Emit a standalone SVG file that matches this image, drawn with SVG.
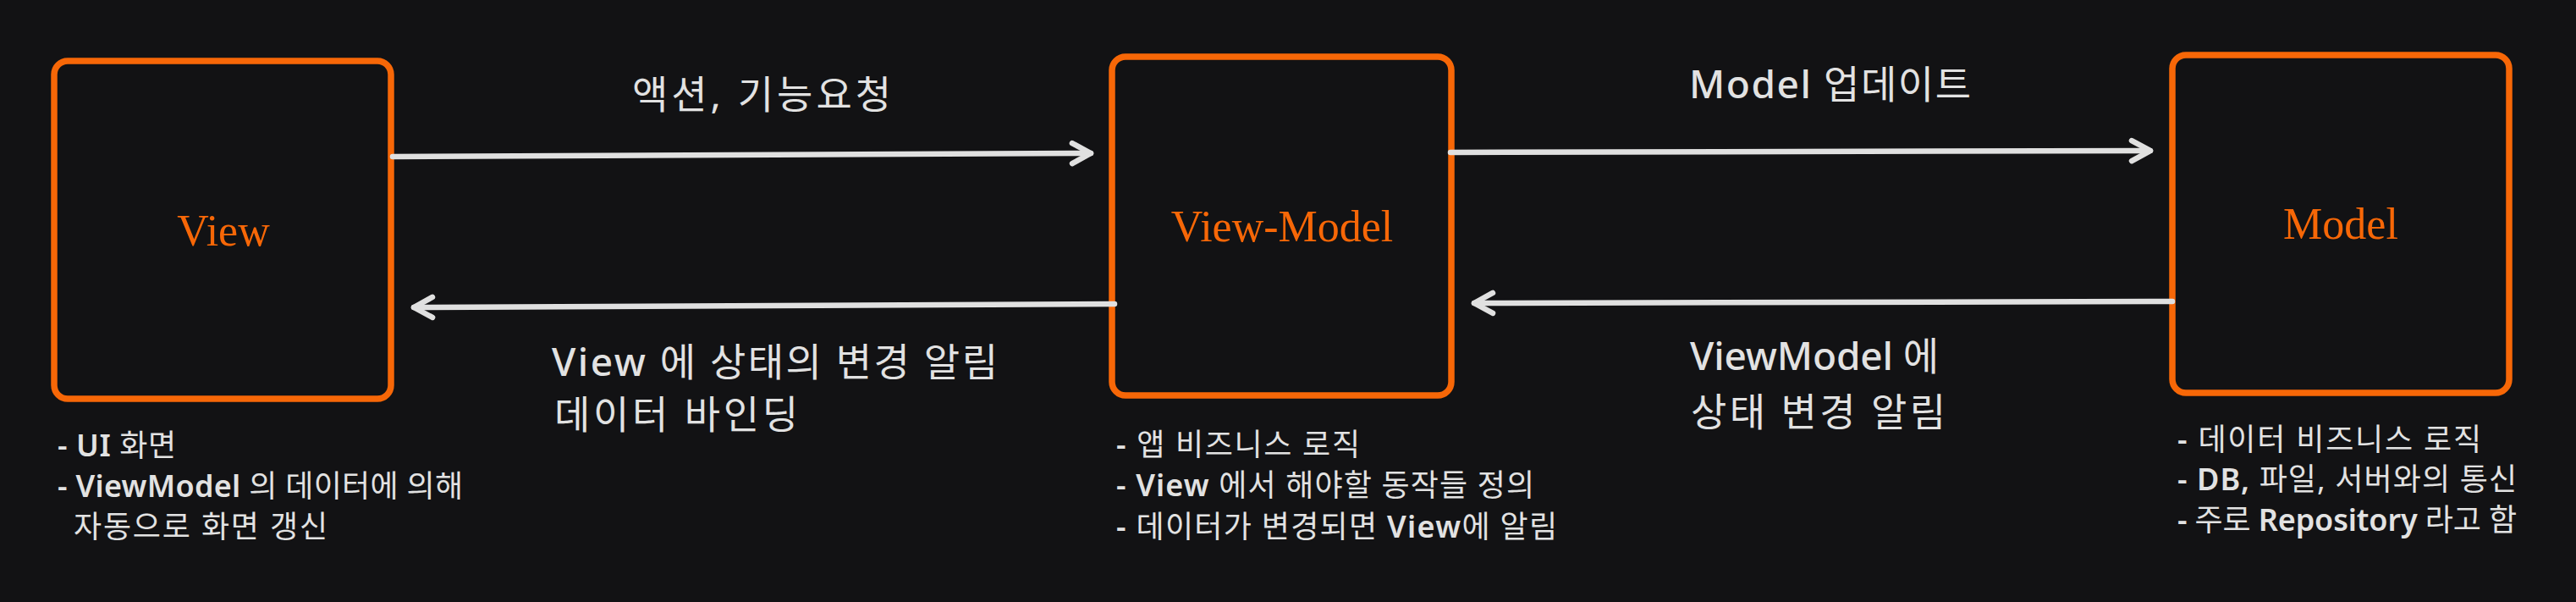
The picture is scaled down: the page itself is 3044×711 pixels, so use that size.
<svg xmlns="http://www.w3.org/2000/svg" width="3044" height="711" viewBox="0 0 3044 711">
  <style>
    .box { fill: #121214; stroke: #f76707; stroke-width: 7.5; }
    .title { font-family: "Liberation Serif", "DejaVu Serif", serif; font-size: 52px; fill: #f76707; text-anchor: middle; }
    .label { font-family: "Noto Sans", "Noto Sans CJK KR", sans-serif; font-size: 46px; fill: #e2e2e2; }
    .note { font-family: "Noto Sans", "Noto Sans CJK KR", sans-serif; font-size: 36px; fill: #e2e2e2; }
    .m { font-weight: 500; }
    .b { font-weight: 600; }
    .edge { fill: none; stroke: #e0e0e0; stroke-width: 6.5; stroke-linecap: round; marker-end: url(#chev); }
  </style>
  <defs>
    <marker id="chev" markerUnits="userSpaceOnUse" viewBox="-32 -20 40 40" refX="0" refY="0" markerWidth="40" markerHeight="40" orient="auto">
      <path d="M -22 -12 L 0 0 L -22 12" fill="none" stroke="#e0e0e0" stroke-width="6.5" stroke-linecap="round" stroke-linejoin="round"/>
    </marker>
  </defs>
  <rect x="0" y="0" width="3044" height="711" fill="#121214"/>

  <g id="node-view">
    <rect class="box" x="64" y="72" width="398" height="399" rx="16"/>
    <text class="title" x="264" y="290">View</text>
  </g>
  <g id="node-viewmodel">
    <rect class="box" x="1314" y="67" width="401" height="400" rx="16"/>
    <text class="title" x="1515" y="285">View-Model</text>
  </g>
  <g id="node-model">
    <rect class="box" x="2567" y="65" width="398" height="399" rx="16"/>
    <text class="title" x="2766" y="282">Model</text>
  </g>

  <g id="connectors">
    <path class="edge" d="M 464 185 L 1289 181"/>
    <path class="edge" d="M 1317 359 L 489 363"/>
    <path class="edge" d="M 1714 180 L 2541 178"/>
    <path class="edge" d="M 2567 356 L 1742 358"/>
  </g>

  <g id="edge-labels">
    <text class="label" x="747" y="128" textLength="306">액션, 기능요청</text>
    <text class="label" x="652" y="444" textLength="527"><tspan class="m">View</tspan> 에 상태의 변경 알림</text>
    <text class="label" x="655" y="506" textLength="288">데이터 바인딩</text>
    <text class="label" x="1996" y="116" textLength="333"><tspan class="m">Model</tspan> 업데이트</text>
    <text class="label" x="1997" y="437" textLength="294"><tspan class="m">ViewModel</tspan> 에</text>
    <text class="label" x="1998" y="503" textLength="301">상태 변경 알림</text>
  </g>

  <g id="note-view">
    <text class="note" x="68" y="539" textLength="140"><tspan class="b">- UI</tspan> 화면</text>
    <text class="note" x="68" y="587" textLength="479"><tspan class="b">- ViewModel</tspan> 의 데이터에 의해</text>
    <text class="note" x="87" y="635" textLength="300">자동으로 화면 갱신</text>
  </g>
  <g id="note-viewmodel">
    <text class="note" x="1319" y="538" textLength="288"><tspan class="b">-</tspan> 앱 비즈니스 로직</text>
    <text class="note" x="1319" y="586" textLength="494"><tspan class="b">- View</tspan> 에서 해야할 동작들 정의</text>
    <text class="note" x="1319" y="635" textLength="521"><tspan class="b">-</tspan> 데이터가 변경되면 <tspan class="b">View</tspan>에 알림</text>
  </g>
  <g id="note-model">
    <text class="note" x="2573" y="532" textLength="359"><tspan class="b">-</tspan> 데이터 비즈니스 로직</text>
    <text class="note" x="2573" y="579" textLength="401"><tspan class="b">- DB,</tspan> 파일, 서버와의 통신</text>
    <text class="note" x="2573" y="627" textLength="401"><tspan class="b">-</tspan> 주로 <tspan class="b">Repository</tspan> 라고 함</text>
  </g>
</svg>
